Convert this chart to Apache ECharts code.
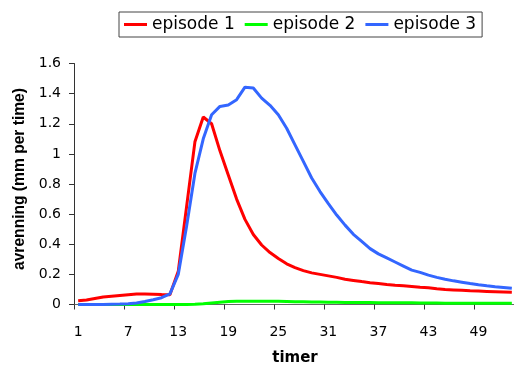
<!DOCTYPE html>
<html>
<head>
<meta charset="utf-8">
<script src="https://cdn.jsdelivr.net/npm/echarts@6/dist/echarts.min.js"></script>
<style>
  html, body { margin: 0; padding: 0; background: #fff; }
  #chart { width: 514px; height: 368px; }
</style>
</head>
<body>
<div id="chart"></div>
<script>
const categories = [];
for (let i = 1; i <= 53; i++) categories.push(String(i));

const seriesNames = ['episode 1', 'episode 2', 'episode 3'];

const episode1 = [
  0.025, 0.03, 0.04, 0.05, 0.055, 0.06, 0.065, 0.07, 0.07, 0.068,
  0.066, 0.065, 0.22, 0.65, 1.08, 1.245, 1.20, 1.02, 0.86, 0.70,
  0.565, 0.465, 0.395, 0.345, 0.305, 0.27, 0.245, 0.225, 0.21, 0.2,
  0.19, 0.18, 0.168, 0.16, 0.152, 0.145, 0.139, 0.133, 0.128, 0.124,
  0.12, 0.115, 0.111, 0.104, 0.1, 0.097, 0.094, 0.091, 0.089, 0.087,
  0.085, 0.083, 0.081
];

const episode2 = [
  0, 0, 0, 0, 0, 0, 0, 0, 0, 0,
  0, 0, 0, 0, 0.002, 0.005, 0.01, 0.015, 0.02, 0.022,
  0.022, 0.022, 0.022, 0.022, 0.021, 0.02, 0.019, 0.018, 0.017, 0.016,
  0.015, 0.015, 0.014, 0.014, 0.013, 0.013, 0.012, 0.012, 0.011, 0.011,
  0.011, 0.01, 0.01, 0.01, 0.009, 0.009, 0.009, 0.009, 0.008, 0.008,
  0.008, 0.008, 0.008
];

const episode3 = [
  0, 0, 0, 0, 0.002, 0.003, 0.005, 0.01, 0.02, 0.032,
  0.045, 0.07, 0.2, 0.52, 0.87, 1.10, 1.26, 1.315, 1.325, 1.36,
  1.443, 1.437, 1.37, 1.322, 1.26, 1.17, 1.06, 0.95, 0.84, 0.75,
  0.67, 0.594, 0.527, 0.466, 0.419, 0.371, 0.336, 0.309, 0.282, 0.255,
  0.228, 0.213, 0.195, 0.18, 0.168, 0.157, 0.148, 0.139, 0.131, 0.124,
  0.118, 0.113, 0.108
];

const colors = ['#FF0000', '#00FF00', '#3366FF'];
const yTicks = { min: 0, max: 1.6, interval: 0.2 };

const chart = echarts.init(document.getElementById('chart'), null, { renderer: 'canvas' });

const mk = (name, data, color) => ({
  name: name,
  type: 'line',
  data: data,
  symbol: 'none',
  showSymbol: false,
  smooth: false,
  z: 3,
  lineStyle: { color: color, width: 3 },
  itemStyle: { color: color },
  animation: false
});

chart.setOption({
  animation: false,
  backgroundColor: '#ffffff',
  color: colors,
  legend: {
    data: seriesNames,
    left: 119,
    top: 12,
    orient: 'horizontal',
    itemWidth: 23,
    itemHeight: 3,
    itemGap: 10,
    padding: [4, 6, 4, 5],
    borderColor: '#444',
    borderWidth: 1,
    icon: 'rect',
    textStyle: { fontFamily: 'DejaVu Sans', fontSize: 17, color: '#000' }
  },
  grid: { left: 74, right: -2, top: 63.5, bottom: 63.5, containLabel: false, outerBoundsMode: 'none' },
  xAxis: {
    type: 'category',
    data: categories,
    boundaryGap: true,
    name: 'timer',
    nameLocation: 'middle',
    nameGap: 46,
    nameTextStyle: { fontFamily: 'DejaVu Sans', fontWeight: 'bold', fontSize: 15, color: '#000' },
    axisLine: { lineStyle: { color: '#666', width: 1 } },
    axisTick: { show: true, interval: 5, length: 5, inside: false, lineStyle: { color: '#333' } },
    axisLabel: { interval: 5, margin: 21, fontFamily: 'DejaVu Sans', fontSize: 14, color: '#000' },
    splitLine: { show: false }
  },
  yAxis: {
    type: 'value',
    min: yTicks.min,
    max: yTicks.max,
    interval: yTicks.interval,
    name: 'avrenning (mm per time)',
    nameLocation: 'middle',
    nameRotate: 90,
    nameGap: 45,
    nameTextStyle: { fontFamily: 'Liberation Sans', fontWeight: 'bold', fontSize: 15.6, color: '#000', padding: [0, 0, 0, 10] },
    axisLine: { show: true, lineStyle: { color: '#333', width: 1 } },
    axisTick: { show: true, length: 5, inside: false, lineStyle: { color: '#333' } },
    axisLabel: { margin: 13, fontFamily: 'DejaVu Sans', fontSize: 14, color: '#000' },
    splitLine: { show: false }
  },
  series: [
    mk(seriesNames[0], episode1, colors[0]),
    mk(seriesNames[1], episode2, colors[1]),
    mk(seriesNames[2], episode3, colors[2])
  ]
});
</script>
</body>
</html>
